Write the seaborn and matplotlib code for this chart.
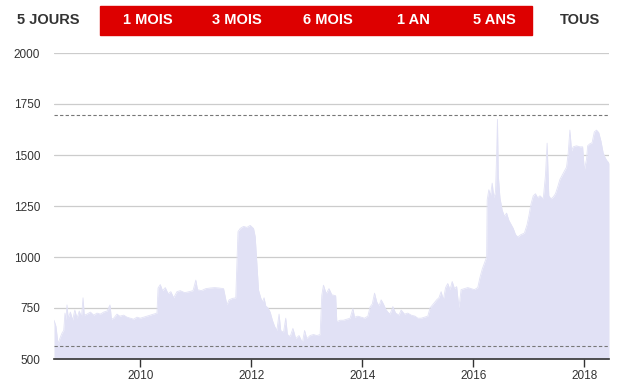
import matplotlib
matplotlib.use("Agg")
import matplotlib.pyplot as plt
import seaborn as sns
import pandas as pd
from matplotlib.patches import Rectangle

years = [
    2008.445, 2008.48, 2008.517, 2008.55, 2008.589, 2008.62, 2008.643, 2008.66, 2008.679, 2008.70,
    2008.74, 2008.78, 2008.82, 2008.86, 2008.90, 2008.94, 2008.968, 2008.99, 2009.04, 2009.10,
    2009.16, 2009.22, 2009.28, 2009.34, 2009.40, 2009.454, 2009.48, 2009.52, 2009.58, 2009.63,
    2009.70, 2009.76, 2009.82, 2009.88, 2009.94, 2010.00, 2010.06, 2010.12, 2010.18, 2010.24,
    2010.30, 2010.32, 2010.36, 2010.40, 2010.45, 2010.50, 2010.55, 2010.60, 2010.66, 2010.72,
    2010.80, 2010.88, 2010.95, 2011.00, 2011.03, 2011.10, 2011.18, 2011.26, 2011.34, 2011.42,
    2011.50, 2011.56, 2011.60, 2011.66, 2011.72, 2011.76, 2011.80, 2011.86, 2011.92, 2011.98,
    2012.04, 2012.07, 2012.10, 2012.13, 2012.17, 2012.20, 2012.23, 2012.26, 2012.30, 2012.34,
    2012.38, 2012.42, 2012.46, 2012.50, 2012.53, 2012.58, 2012.62, 2012.65, 2012.70, 2012.75,
    2012.80, 2012.86, 2012.92, 2012.96, 2013.00, 2013.06, 2013.12, 2013.18, 2013.24, 2013.27,
    2013.30, 2013.35, 2013.40, 2013.45, 2013.52, 2013.54, 2013.60, 2013.66, 2013.72, 2013.78,
    2013.83, 2013.86, 2013.92, 2013.98, 2014.04, 2014.10, 2014.14, 2014.18, 2014.22, 2014.26,
    2014.30, 2014.34, 2014.38, 2014.42, 2014.46, 2014.50, 2014.55, 2014.60, 2014.66, 2014.70,
    2014.76, 2014.82, 2014.88, 2014.95, 2015.00, 2015.06, 2015.12, 2015.18, 2015.22, 2015.28,
    2015.34, 2015.38, 2015.42, 2015.46, 2015.50, 2015.54, 2015.58, 2015.62, 2015.66, 2015.70,
    2015.74, 2015.78, 2015.84, 2015.90, 2015.96, 2016.02, 2016.08, 2016.12, 2016.16, 2016.20,
    2016.24, 2016.25, 2016.28, 2016.31, 2016.34, 2016.37, 2016.40, 2016.42, 2016.435, 2016.45,
    2016.48, 2016.52, 2016.56, 2016.60, 2016.64, 2016.68, 2016.72, 2016.76, 2016.80, 2016.86,
    2016.92, 2016.97, 2017.00, 2017.04, 2017.08, 2017.12, 2017.16, 2017.20, 2017.26, 2017.30,
    2017.33, 2017.36, 2017.40, 2017.44, 2017.48, 2017.52, 2017.56, 2017.60, 2017.64, 2017.68,
    2017.71, 2017.74, 2017.77, 2017.80, 2017.86, 2017.92, 2017.97, 2018.00, 2018.04, 2018.06,
    2018.10, 2018.14, 2018.18, 2018.22, 2018.26, 2018.30, 2018.34, 2018.37, 2018.40, 2018.445,
]
prices = [
    690, 660, 575, 600, 627, 640, 725, 690, 765, 700,
    730, 690, 740, 700, 735, 705, 800, 715, 720, 730,
    715, 725, 720, 730, 735, 765, 695, 700, 720, 710,
    715, 705, 700, 695, 705, 700, 705, 710, 715, 720,
    725, 848, 865, 835, 850, 820, 830, 800, 830, 835,
    825, 830, 835, 887, 840, 835, 845, 848, 850, 848,
    845, 765, 790, 797, 800, 1124, 1140, 1150, 1145, 1155,
    1140, 1100, 970, 838, 800, 780, 800, 760, 750, 730,
    690, 660, 640, 720, 640, 630, 700, 620, 610, 650,
    600, 615, 580, 640, 600, 615, 620, 615, 620, 813,
    862, 820, 845, 815, 810, 683, 690, 690, 695, 700,
    747, 705, 710, 705, 700, 710, 755, 770, 823, 780,
    760, 790, 770, 745, 730, 720, 757, 725, 715, 740,
    720, 725, 715, 710, 700, 700, 705, 710, 750, 770,
    790, 800, 830, 790, 850, 870, 840, 880, 845, 855,
    750, 840, 845, 850, 845, 840, 850, 900, 940, 970,
    1000, 1280, 1330, 1300, 1362, 1290, 1320, 1500, 1675, 1400,
    1290, 1230, 1200, 1215, 1180, 1160, 1140, 1110, 1098, 1110,
    1117, 1160, 1200, 1260, 1300, 1310, 1290, 1300, 1285, 1400,
    1558, 1300, 1285, 1294, 1310, 1343, 1380, 1400, 1420, 1441,
    1510, 1622, 1520, 1540, 1545, 1540, 1540, 1425, 1480, 1545,
    1555, 1560, 1613, 1622, 1610, 1568, 1510, 1490, 1475, 1460,
]
y_ticks = [500, 750, 1000, 1250, 1500, 1750, 2000]
x_ticks = [2010, 2012, 2014, 2016, 2018]
upper_ref = 1696
lower_ref = 564
buttons = ["5 JOURS", "1 MOIS", "3 MOIS", "6 MOIS", "1 AN", "5 ANS", "TOUS"]
button_x = [48, 148, 237, 328, 413, 494, 580]

df = pd.DataFrame({"year": years, "price": prices})

sns.set_theme(style="white")
plt.rcParams["font.family"] = ["Liberation Sans", "DejaVu Sans"]

W, H = 621, 384
fig = plt.figure(figsize=(W / 100, H / 100), dpi=100)
ax = fig.add_axes([54 / W, 25 / H, 555 / W, 306 / H])

fill_col = "#e1e1f5"
ax.fill_between(df["year"], 500, df["price"], color=fill_col, linewidth=0, zorder=1)
sns.lineplot(data=df, x="year", y="price", ax=ax, color=fill_col, linewidth=0.6, zorder=2)

x0, x1 = 2008.445, 2018.445
ax.set_xlim(x0, x1)
ax.set_ylim(500, 2000)

for v in y_ticks[1:]:
    ax.axhline(v, color="#cccccc", linewidth=0.9, zorder=0.5)
ax.axhline(upper_ref, color="#777777", linewidth=0.8, linestyle=(0, (3, 2)), zorder=3, clip_on=False)
ax.axhline(lower_ref, color="#777777", linewidth=0.8, linestyle=(0, (3, 2)), zorder=3)

for s in ["top", "right", "left"]:
    ax.spines[s].set_visible(False)
ax.spines["bottom"].set_color("#333333")
ax.spines["bottom"].set_linewidth(1.2)

ax.set_yticks(y_ticks)
ax.set_yticklabels([str(v) for v in y_ticks])
ax.set_xticks(x_ticks)
ax.set_xticklabels([str(v) for v in x_ticks])
ax.tick_params(axis="y", length=0, pad=10, labelsize=8.5, labelcolor="#333333")
ax.tick_params(axis="x", length=6, width=1, color="#333333", direction="out",
               pad=2, labelsize=8.5, labelcolor="#333333", bottom=True)
ax.set_xlabel("")
ax.set_ylabel("")
ax.grid(False)

# Header buttons
fig.patches.append(Rectangle((100 / W, 1 - 35 / H), 432 / W, 29 / H,
                             transform=fig.transFigure, color="#dd0000", zorder=0))
for lab, bx in zip(buttons, button_x):
    col = "white" if 100 < bx < 532 else "#333333"
    fig.text(bx / W, 1 - 20 / H, lab, ha="center", va="center", fontsize=10.5,
             fontweight="bold", color=col)

fig.savefig("out.png", dpi=100)
